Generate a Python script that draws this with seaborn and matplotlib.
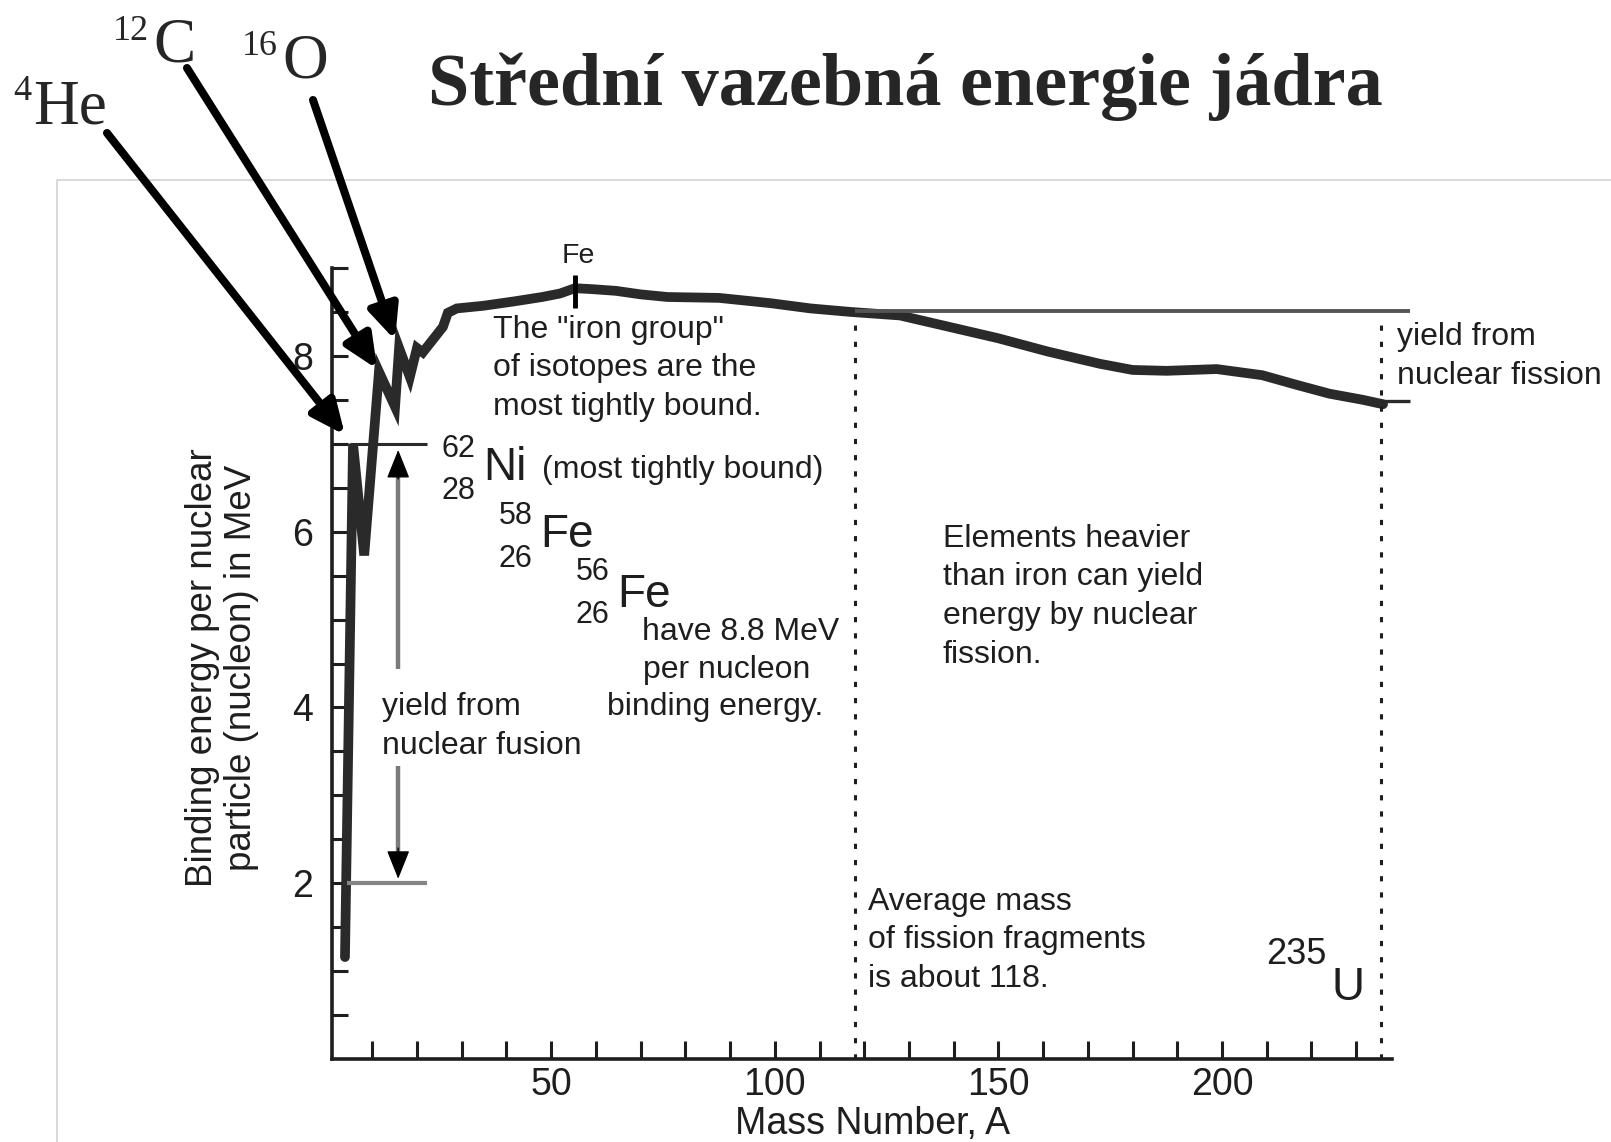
import matplotlib
matplotlib.use("Agg")
import matplotlib.pyplot as plt
from matplotlib.patches import Rectangle
import seaborn as sns
import pandas as pd

# binding energy per nucleon
mass_number = [3.9, 5.7, 8.2, 11.5, 15.1, 16.0, 18.4, 20.0, 21.3, 25.8, 26.9,
               28.9, 34.8, 41.7, 48.0, 52.0, 55.3, 59.0, 64.5, 70.0, 76.0,
               87.5, 99.0, 108.0, 117.0, 128.0, 139.0, 150.0, 161.0, 172.7,
               180.0, 187.6, 198.8, 209.0, 216.7, 224.0, 231.5, 236.0]
binding_energy = [1.16, 7.0, 5.73, 7.82, 7.42, 8.09, 7.76, 8.09, 8.04, 8.33, 8.49,
                  8.54, 8.57, 8.62, 8.67, 8.71, 8.77, 8.76, 8.74, 8.70, 8.67,
                  8.66, 8.60, 8.54, 8.50, 8.46, 8.33, 8.20, 8.05, 7.91,
                  7.84, 7.83, 7.85, 7.78, 7.67, 7.57, 7.50, 7.45]

# reference levels and markers
fusion_levels = [2.0, 7.0]          # low / high ends of fusion yield
fission_levels = [8.51, 7.49]       # high / low ends of fission yield
fusion_arrow_A = 15.8
iron_A = 55.3
fragment_A = 118
uranium_A = 235.5

# element arrows (tips in data units)
element_names = ["He", "C", "O"]
element_masses = ["4", "12", "16"]
tip_A = [3.9, 11.1, 15.1]
tip_E = [7.10, 7.85, 8.18]

x_ticks = list(range(10, 240, 10))
y_ticks = [0.5 * k for k in range(1, 19)]

W, H = 1611, 1142
INK = "#1e1e1e"

sns.set_style("ticks")
plt.rcParams["font.family"] = ["Liberation Sans", "DejaVu Sans"]


def fig_px(x, y):
    return x / W, 1 - y / H


def write_lines(ax, lines, a, e_top, step=0.44, size=23):
    for i, line in enumerate(lines):
        ax.text(a, e_top - i * step, line, ha="left", va="center",
                fontsize=size, color=INK)


fig = plt.figure(figsize=(W / 100, H / 100), dpi=100)
ax = fig.add_axes([332 / W, 83 / H, 1060 / W, 791 / H])

curve = pd.DataFrame({"A": mass_number, "E": binding_energy})
sns.lineplot(data=curve, x="A", y="E", sort=False, estimator=None,
             color="#2a2a2a", lw=7, ax=ax, solid_joinstyle="miter")

# fusion yield
ax.hlines(fusion_levels[1], 5.0, 22.2, color="#2a2a2a", lw=2.2)
ax.hlines(fusion_levels[0], 4.4, 22.2, color="#858585", lw=3)
ax.vlines(fusion_arrow_A, 4.44, 6.7, color="#7a7a7a", lw=3.2)
ax.vlines(fusion_arrow_A, 2.2, 3.33, color="#7a7a7a", lw=3.2)
for start, end in [(6.6, 6.93), (2.4, 2.05)]:
    ax.annotate("", xy=(fusion_arrow_A, end), xytext=(fusion_arrow_A, start),
                arrowprops=dict(arrowstyle="-|>,head_length=0.75,head_width=0.3",
                                mutation_scale=24, color="black", lw=1,
                                shrinkA=0, shrinkB=0))

# fission yield
ax.hlines(fission_levels[0], 118, 242, color="#555555", lw=2.8, clip_on=False)
ax.hlines(fission_levels[1], uranium_A, 242, color="#2a2a2a", lw=2.4, clip_on=False)
ax.vlines([fragment_A, uranium_A], 0, 8.43, color=INK, lw=2.2,
          linestyles=(0, (1.7, 3.6)))

# iron peak tick
ax.vlines(iron_A, 8.55, 8.92, color="black", lw=3.5)
ax.text(56, 9.14, "Fe", ha="center", va="center", fontsize=20.5, color=INK)

write_lines(ax, ['The "iron group"', "of isotopes are the",
                 "most tightly bound."], 37.0, 8.30)
write_lines(ax, ["yield from", "nuclear fusion"], 12.2, 4.00)
write_lines(ax, ["Elements heavier", "than iron can yield",
                 "energy by nuclear", "fission."], 137.6, 5.92)
write_lines(ax, ["Average mass", "of fission fragments",
                 "is about 118."], 120.8, 1.79)
write_lines(ax, ["yield from", "nuclear fission"], 239.1, 8.21)
ax.text(70.3, 4.86, "have 8.8 MeV", fontsize=23, color=INK, va="center")
ax.text(70.5, 4.43, "per nucleon", fontsize=23, color=INK, va="center")
ax.text(62.5, 4.00, "binding energy.", fontsize=23, color=INK, va="center")

# nuclide symbols
isotopes = [("62", "28", "Ni", 29.2, 6.94, 6.46, 34.8, 6.72),
            ("58", "26", "Fe", 42.1, 6.18, 5.69, 47.5, 5.96),
            ("56", "26", "Fe", 59.3, 5.54, 5.05, 64.7, 5.28)]
for mass, z, sym, a_num, e_mass, e_z, a_sym, e_sym in isotopes:
    ax.text(a_num, e_mass, mass, ha="center", va="center", fontsize=22, color=INK)
    ax.text(a_num, e_z, z, ha="center", va="center", fontsize=22, color=INK)
    ax.text(a_sym, e_sym, sym, ha="left", va="center", fontsize=33, color=INK)
ax.text(47.9, 6.70, "(most tightly bound)", fontsize=23, color=INK, va="center")
ax.text(216.7, 1.19, "235", ha="center", va="center", fontsize=26, color=INK)
ax.text(228.1, 0.81, "U", ha="center", va="center", fontsize=33, color=INK)

# axes styling
ax.set_xlim(1, 238)
ax.set_ylim(0, 9)
ax.set_xticks(x_ticks)
ax.set_xticklabels([str(v) if v % 50 == 0 else "" for v in x_ticks])
ax.set_yticks(y_ticks)
ax.set_yticklabels([str(int(v)) if v in (2, 4, 6, 8) else "" for v in y_ticks])
ax.tick_params(axis="x", direction="in", length=13, width=2.2, pad=6,
               labelsize=27, colors=INK)
ax.tick_params(axis="y", direction="in", length=11.5, width=2.2, pad=13.5,
               labelsize=27, colors=INK)
sns.despine(ax=ax)
for side in ["left", "bottom"]:
    ax.spines[side].set_linewidth(2.6)
    ax.spines[side].set_color(INK)

ax.set_xlabel("Mass Number, A", fontsize=27, color=INK)
ax.xaxis.set_label_coords((873 - 332) / 1060, -(1124 - 1059) / 791)
ax.xaxis.label.set_va("center")
ax.set_ylabel("Binding energy per nuclear\nparticle (nucleon) in MeV",
              fontsize=26.5, color=INK, linespacing=1.15)
ax.yaxis.set_label_coords((222 - 332) / 1060, (1059 - 668) / 791)
ax.yaxis.label.set_va("center")

# slide decorations: frame, title, element arrows
fig.add_artist(Rectangle(fig_px(57, H + 20), 1.0, (H + 20 - 180) / H,
                         transform=fig.transFigure, fill=False,
                         ec="#d2d2d2", lw=1.2, zorder=-1))
tx, ty = fig_px(905.5, 105)
fig.text(tx, ty, "Střední vazebná energie jádra", ha="center", va="baseline",
         fontsize=53.5, fontweight="bold", family="Liberation Serif")

tails = [(107, 133), (187, 68), (313, 100)]
sup_pos = [(13, 100), (113, 40), (242, 55)]
sym_pos = [(33, 123), (153, 62), (282, 78)]
for i, name in enumerate(element_names):
    ax.annotate("", xy=(tip_A[i], tip_E[i]), xycoords="data",
                xytext=(tails[i][0], H - tails[i][1]), textcoords="figure pixels",
                arrowprops=dict(arrowstyle="-|>,head_length=1.0,head_width=0.45",
                                mutation_scale=20, color="black", lw=5.8,
                                shrinkA=0, shrinkB=0), annotation_clip=False)
    sx, sy = fig_px(*sup_pos[i])
    fig.text(sx, sy, element_masses[i], ha="left", va="baseline",
             fontsize=26, family="Liberation Serif")
    ex, ey = fig_px(*sym_pos[i])
    fig.text(ex, ey, name, ha="left", va="baseline",
             fontsize=45.5, family="Liberation Serif")

fig.savefig("out.png", dpi=100)
